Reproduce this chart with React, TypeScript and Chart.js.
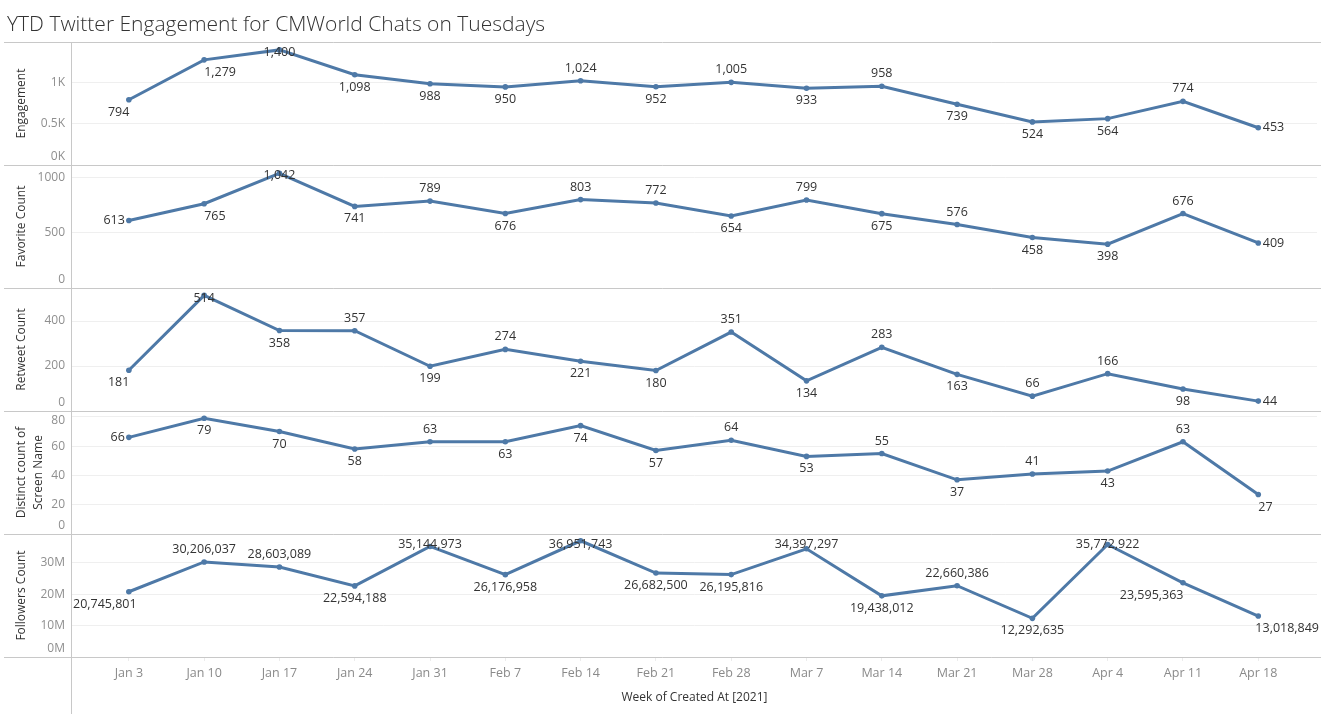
import React, { useEffect, useRef } from 'react';
import { Chart, registerables } from 'chart.js';

Chart.register(...registerables);

const FONT = '"Open Sans", "Noto Sans", sans-serif';

const chartTitle = 'YTD Twitter Engagement for CMWorld Chats on Tuesdays';
const xAxisTitle = 'Week of Created At [2021]';

const weeks = ['Jan 3', 'Jan 10', 'Jan 17', 'Jan 24', 'Jan 31', 'Feb 7', 'Feb 14', 'Feb 21', 'Feb 28', 'Mar 7', 'Mar 14', 'Mar 21', 'Mar 28', 'Apr 4', 'Apr 11', 'Apr 18'];

const engagement = [794, 1279, 1400, 1098, 988, 950, 1024, 952, 1005, 933, 958, 739, 524, 564, 774, 453];
const favoriteCount = [613, 765, 1042, 741, 789, 676, 803, 772, 654, 799, 675, 576, 458, 398, 676, 409];
const retweetCount = [181, 514, 358, 357, 199, 274, 221, 180, 351, 134, 283, 163, 66, 166, 98, 44];
const distinctScreenNames = [66, 79, 70, 58, 63, 63, 74, 57, 64, 53, 55, 37, 41, 43, 63, 27];
const followersCount = [20745801, 30206037, 28603089, 22594188, 35144973, 26176958, 36951743, 26682500, 26195816, 34397297, 19438012, 22660386, 12292635, 35772922, 23595363, 13018849];

const engagementTicks = [0, 500, 1000];
const engagementTickLabels = ['0K', '0.5K', '1K'];
const favoriteTicks = [0, 500, 1000];
const favoriteTickLabels = ['0', '500', '1000'];
const retweetTicks = [0, 200, 400];
const retweetTickLabels = ['0', '200', '400'];
const distinctTicks = [0, 20, 40, 60, 80];
const distinctTickLabels = ['0', '20', '40', '60', '80'];
const followersTicks = [0, 10000000, 20000000, 30000000];
const followersTickLabels = ['0M', '10M', '20M', '30M'];

// label placement: a = above, b = below, l = left, r = right, bl / br = below-left / below-right
const engagementLabelPos = ['bl', 'br', 'a', 'b', 'b', 'b', 'a', 'b', 'a', 'b', 'a', 'b', 'b', 'b', 'a', 'r'];
const favoriteLabelPos = ['l', 'br', 'a', 'b', 'a', 'b', 'a', 'a', 'b', 'a', 'b', 'a', 'b', 'b', 'a', 'r'];
const retweetLabelPos = ['bl', 'a', 'b', 'a', 'b', 'a', 'b', 'b', 'a', 'b', 'a', 'b', 'a', 'a', 'b', 'r'];
const distinctLabelPos = ['l', 'b', 'b', 'b', 'a', 'b', 'b', 'b', 'a', 'b', 'a', 'b', 'a', 'b', 'a', 'br'];
const followersLabelPos = ['bl', 'a', 'a', 'b', 'a', 'b', 'a', 'b', 'b', 'a', 'b', 'a', 'b', 'a', 'bl', 'br'];

const panels = [
  { key: 'yEng', title: 'Engagement' as string | string[], values: engagement, max: 1496, ticks: engagementTicks, tickLabels: engagementTickLabels, labelPos: engagementLabelPos, shiftDown: [] as number[] },
  { key: 'yFav', title: 'Favorite Count' as string | string[], values: favoriteCount, max: 1117, ticks: favoriteTicks, tickLabels: favoriteTickLabels, labelPos: favoriteLabelPos, shiftDown: [] as number[] },
  { key: 'yRet', title: 'Retweet Count' as string | string[], values: retweetCount, max: 547, ticks: retweetTicks, tickLabels: retweetTickLabels, labelPos: retweetLabelPos, shiftDown: [] as number[] },
  { key: 'yDis', title: ['Distinct count of', 'Screen Name'] as string | string[], values: distinctScreenNames, max: 84, ticks: distinctTicks, tickLabels: distinctTickLabels, labelPos: distinctLabelPos, shiftDown: [80] },
  { key: 'yFol', title: 'Followers Count' as string | string[], values: followersCount, max: 39100000, ticks: followersTicks, tickLabels: followersTickLabels, labelPos: followersLabelPos, shiftDown: [] as number[] },
];

const LINE_COLOR = '#4e79a7';
const SEP_COLOR = '#c8c8c8';
const GRID_COLOR = '#efefef';

const decorPlugin = {
  id: 'decor',
  beforeDatasetsDraw(chart: any) {
    const ctx = chart.ctx;
    const area = chart.chartArea;
    ctx.save();
    ctx.strokeStyle = SEP_COLOR;
    ctx.lineWidth = 1;
    ctx.beginPath();
    const ys: number[] = panels.map((p) => chart.scales[p.key].top);
    ys.push(area.bottom);
    ys.forEach((y) => {
      const yy = Math.round(y) + 0.5;
      ctx.moveTo(4, yy);
      ctx.lineTo(chart.width, yy);
    });
    const x = Math.round(area.left) - 0.5;
    ctx.moveTo(x, area.top);
    ctx.lineTo(x, chart.height);
    ctx.stroke();
    ctx.restore();
  },
  afterDatasetsDraw(chart: any) {
    const ctx = chart.ctx;
    const area = chart.chartArea;
    ctx.save();
    ctx.font = `12.5px ${FONT}`;
    ctx.fillStyle = '#333333';
    ctx.textBaseline = 'middle';
    ctx.textAlign = 'left';
    panels.forEach((p, d) => {
      const meta = chart.getDatasetMeta(d);
      const scale = chart.scales[p.key];
      meta.data.forEach((el: any, i: number) => {
        const text = p.values[i].toLocaleString('en-US');
        const w = ctx.measureText(text).width;
        const pos = p.labelPos[i];
        let left = el.x - w / 2;
        let cy = el.y;
        if (pos === 'a') {
          cy = Math.max(el.y - 12.5, scale.top + 10.5);
        } else if (pos === 'b') {
          cy = el.y + 12.5;
        } else if (pos === 'l') {
          left = el.x - 4 - w;
        } else if (pos === 'r') {
          left = el.x + 4.5;
        } else if (pos === 'bl') {
          left = el.x + 0.5 - w;
          cy = el.y + 12.5;
        } else if (pos === 'br') {
          left = el.x;
          cy = el.y + 12.5;
        }
        if (left < area.left + 1) left = area.left + 1;
        if (left + w > chart.width - 2) left = chart.width - 2 - w;
        ctx.fillText(text, left, cy);
      });
    });
    ctx.restore();
  },
  afterDraw(chart: any) {
    const ctx = chart.ctx;
    ctx.save();
    ctx.font = `300 21px ${FONT}`;
    ctx.fillStyle = '#333333';
    ctx.textBaseline = 'alphabetic';
    ctx.textAlign = 'left';
    ctx.fillText(chartTitle, 7, 31);
    ctx.restore();
  },
};

export default function App() {
  const canvasRef = useRef<HTMLCanvasElement | null>(null);

  useEffect(() => {
    const canvas = canvasRef.current;
    if (!canvas) return;

    const datasets = panels.map((p) => ({
      label: Array.isArray(p.title) ? p.title.join(' ') : p.title,
      data: p.values.map((v, i) => ({ x: i, y: v })),
      yAxisID: p.key,
      xAxisID: 'x',
      borderColor: LINE_COLOR,
      backgroundColor: LINE_COLOR,
      borderWidth: 3,
      pointRadius: 2.8,
      pointBorderWidth: 0,
      pointBackgroundColor: LINE_COLOR,
      tension: 0,
      clip: false as any,
    }));

    const scales: any = {
      x: {
        type: 'linear',
        position: 'bottom',
        min: -0.755,
        max: 15.78,
        afterBuildTicks: (scale: any) => {
          scale.ticks = weeks.map((_, i) => ({ value: i }));
        },
        afterFit: (scale: any) => {
          scale.height = 57;
        },
        grid: { drawOnChartArea: false, drawTicks: true, tickLength: 4, color: '#ececec' },
        border: { display: false },
        ticks: {
          autoSkip: false,
          maxRotation: 0,
          padding: 4.5,
          color: '#8a8a8a',
          font: { family: FONT, size: 12.5 },
          callback: (v: any) => weeks[Math.round(Number(v))] ?? '',
        },
        title: {
          display: true,
          text: xAxisTitle,
          color: '#333333',
          font: { family: FONT, size: 12 },
          padding: { top: 4, bottom: 9 },
        },
      },
    };

    panels.forEach((p, idx) => {
      scales[p.key] = {
        type: 'linear',
        position: 'left',
        stack: 'panes',
        stackWeight: 1,
        weight: panels.length - idx,
        min: 0,
        max: p.max,
        afterBuildTicks: (scale: any) => {
          scale.ticks = p.ticks.map((v) => ({ value: v }));
        },
        afterFit: (scale: any) => {
          scale.width = 72;
        },
        grid: { color: GRID_COLOR, drawTicks: false, lineWidth: 1 },
        border: { display: false },
        ticks: {
          autoSkip: false,
          padding: 7,
          color: '#8f8f8f',
          font: (ctx: any) => {
            const v = ctx.tick ? ctx.tick.value : null;
            let lh: any = 1.2;
            if (v === 0) lh = '16px';
            else if (p.shiftDown.includes(v)) lh = '8px';
            return { family: FONT, size: 12, lineHeight: lh };
          },
          callback: (v: any) => {
            const idx2 = p.ticks.indexOf(Number(v));
            const lab = idx2 >= 0 ? p.tickLabels[idx2] : '';
            if (Number(v) === 0) return [lab, ''];
            if (p.shiftDown.includes(Number(v))) return ['', lab];
            return lab;
          },
        },
        title: {
          display: true,
          text: p.title,
          color: '#333333',
          font: { family: FONT, size: 12, lineHeight: '17px' },
          padding: { top: 13, bottom: 0 },
        },
      };
    });

    const chart = new Chart(canvas, {
      type: 'line',
      data: { datasets },
      options: {
        responsive: false,
        animation: false,
        devicePixelRatio: 1,
        layout: { padding: { top: 42, left: 0, right: 0, bottom: 0 } },
        plugins: {
          legend: { display: false },
          tooltip: { enabled: false },
          title: { display: false },
        },
        scales,
      },
      plugins: [decorPlugin],
    } as any);

    return () => {
      chart.destroy();
    };
  }, []);

  return (
    <div style={{ position: 'fixed', left: 0, top: 0, width: 1321, height: 714, background: '#ffffff' }}>
      <canvas ref={canvasRef} width={1321} height={714} style={{ display: 'block', width: 1321, height: 714 }} />
    </div>
  );
}
